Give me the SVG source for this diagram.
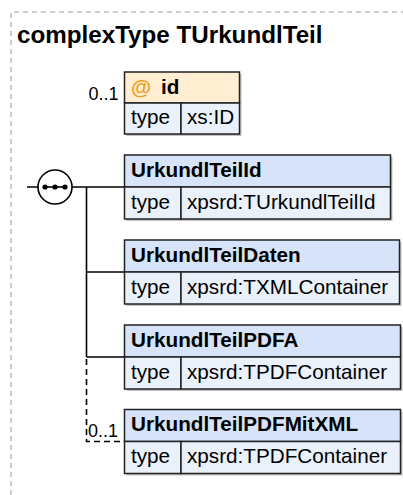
<svg xmlns="http://www.w3.org/2000/svg" width="403" height="495" viewBox="0 0 403 495">
<style>
.t{font-family:"Liberation Sans",Arial,sans-serif;fill:#000}
.title{font-size:24.2px;font-weight:bold}
.h{font-size:20.7px;font-weight:bold}
.b{font-size:20.7px}
.occ{font-size:18px}
.box{stroke:#222;stroke-width:1.5}
.hdr{fill:#d6e3f8}
.ahdr{fill:#ffeed2}
.bdy{fill:#eaf1fb}
.shadow{fill:#777;opacity:0.45}
.conn{stroke:#000;stroke-width:1.6;fill:none}
.dash{stroke-dasharray:6,4}
</style>
<path d="M11,495 V12 H403" fill="none" stroke="#9a9a9a" stroke-width="1" stroke-dasharray="5,4"/>
<text class="t title" x="17" y="43">complexType TUrkundlTeil</text>

<g id="connectors">
<path class="conn" d="M27,187 H38 M72,187 H124.5 M86.5,187 V357 M86.5,272 H124.5 M86.5,357 H124.5"/>
<path class="conn dash" d="M86.5,359 V441.5 H124.5"/>
</g>

<g id="sequence">
<circle cx="55" cy="187" r="17" fill="#fff" stroke="#000" stroke-width="1.6"/>
<path d="M45,187 H65" stroke="#000" stroke-width="1.6"/>
<circle cx="45" cy="187" r="2.6" fill="#000"/>
<circle cx="55" cy="187" r="2.6" fill="#000"/>
<circle cx="65" cy="187" r="2.6" fill="#000"/>
</g>

<g id="attr-id">
<rect class="shadow" x="126.5" y="74" width="115" height="62"/>
<rect class="box ahdr" x="124.5" y="72" width="115" height="31"/>
<rect class="box bdy" x="124.5" y="103" width="56.5" height="31"/>
<rect class="box bdy" x="181" y="103" width="58.5" height="31"/>
<text class="t h" x="131" y="93.5" style="fill:#f0a020">@</text>
<text class="t h" x="161" y="93.5">id</text>
<text class="t b" x="131" y="124">type</text>
<text class="t b" x="187" y="124">xs:ID</text>
<text class="t occ" x="118.5" y="100" text-anchor="end">0..1</text>
</g>

<g id="UrkundlTeilId">
<rect class="shadow" x="126.5" y="157" width="266" height="64"/>
<rect class="box hdr" x="124.5" y="155" width="266" height="32"/>
<rect class="box bdy" x="124.5" y="187" width="56.5" height="32"/>
<rect class="box bdy" x="181" y="187" width="209.5" height="32"/>
<text class="t h" x="131" y="176.5">UrkundlTeilId</text>
<text class="t b" x="131" y="208.5">type</text>
<text class="t b" x="187" y="208.5">xpsrd:TUrkundlTeilId</text>
</g>

<g id="UrkundlTeilDaten">
<rect class="shadow" x="126.5" y="242" width="275" height="64"/>
<rect class="box hdr" x="124.5" y="240" width="275" height="32"/>
<rect class="box bdy" x="124.5" y="272" width="56.5" height="32"/>
<rect class="box bdy" x="181" y="272" width="218.5" height="32"/>
<text class="t h" x="131" y="261.5">UrkundlTeilDaten</text>
<text class="t b" x="131" y="293.5">type</text>
<text class="t b" x="187" y="293.5">xpsrd:TXMLContainer</text>
</g>

<g id="UrkundlTeilPDFA">
<rect class="shadow" x="126.5" y="327" width="276" height="64"/>
<rect class="box hdr" x="124.5" y="325" width="276" height="32"/>
<rect class="box bdy" x="124.5" y="357" width="56.5" height="32"/>
<rect class="box bdy" x="181" y="357" width="219.5" height="32"/>
<text class="t h" x="131" y="346.5">UrkundlTeilPDFA</text>
<text class="t b" x="131" y="378.5">type</text>
<text class="t b" x="187" y="378.5">xpsrd:TPDFContainer</text>
</g>

<g id="UrkundlTeilPDFMitXML">
<rect class="shadow" x="126.5" y="411.5" width="276" height="64"/>
<rect class="box hdr" x="124.5" y="409.5" width="276" height="32"/>
<rect class="box bdy" x="124.5" y="441.5" width="56.5" height="32"/>
<rect class="box bdy" x="181" y="441.5" width="219.5" height="32"/>
<text class="t h" x="131" y="431">UrkundlTeilPDFMitXML</text>
<text class="t b" x="131" y="463">type</text>
<text class="t b" x="187" y="463">xpsrd:TPDFContainer</text>
<text class="t occ" x="88" y="436.5">0..1</text>
</g>
</svg>
